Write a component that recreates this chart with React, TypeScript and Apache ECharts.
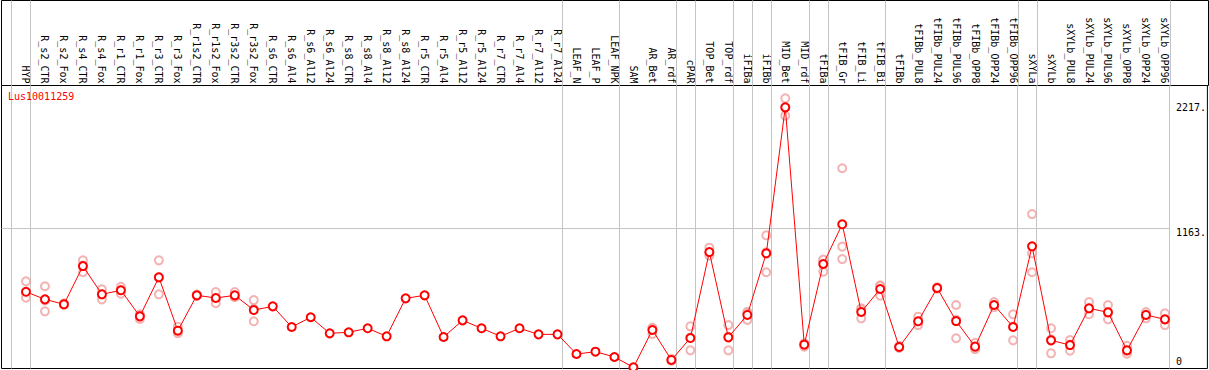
import { useEffect, useRef } from 'react';
import * as echarts from 'echarts';

const categories = [
  'HYP', 'R_s2_CTR', 'R_s2_Fox', 'R_s4_CTR', 'R_s4_Fox', 'R_r1_CTR', 'R_r1_Fox', 'R_r3_CTR', 'R_r3_Fox',
  'R_r1s2_CTR', 'R_r1s2_Fox', 'R_r3s2_CTR', 'R_r3s2_Fox', 'R_s6_CTR', 'R_s6_Al4', 'R_s6_Al12', 'R_s6_Al24',
  'R_s8_CTR', 'R_s8_Al4', 'R_s8_Al12', 'R_s8_Al24', 'R_r5_CTR', 'R_r5_Al4', 'R_r5_Al12', 'R_r5_Al24',
  'R_r7_CTR', 'R_r7_Al4', 'R_r7_Al12', 'R_r7_Al24', 'LEAF_N', 'LEAF_P', 'LEAF_NPK', 'SAM', 'AR_Bet', 'AR_rdf',
  'cPAR', 'TOP_Bet', 'TOP_rdf', 'iFIBa', 'iFIBb', 'MID_Bet', 'MID_rdf', 'tFIBa', 'tFIB_Gr', 'tFIB_Li', 'tFIB_Bi',
  'tFIBb', 'tFIBb_PUL8', 'tFIBb_PUL24', 'tFIBb_PUL96', 'tFIBb_OPP8', 'tFIBb_OPP24', 'tFIBb_OPP96',
  'sXYLa', 'sXYLb', 'sXYLb_PUL8', 'sXYLb_PUL24', 'sXYLb_PUL96', 'sXYLb_OPP8', 'sXYLb_OPP24', 'sXYLb_OPP96',
];

const meanValues = [
  610, 544, 501, 834, 588, 623, 396, 736, 271, 579, 556, 579, 451, 483, 303, 388, 248, 257, 292, 222,
  553, 579, 216, 361, 292, 222, 292, 239, 239, 68, 88, 42, -48, 277, 16, 207, 956, 213, 408, 945,
  2217, 149, 852, 1198, 434, 634, 129, 353, 643, 355, 132, 495, 303, 1006, 187, 146, 466, 431, 100, 408, 370,
];

const N = null;
const replicateA = [
  701, 658, 510, 884, 631, 654, 414, 884, 306, 585, 608, 608, 538, N, N, N, N, N, N, N,
  N, N, N, N, N, N, N, N, N, N, N, N, N, 297, 25, 309, 994, 320, 436, 1102,
  2295, 161, 881, 1686, 466, 666, 140, 393, 650, 495, 166, 521, 414, 1287, 292, 190, 521, 495, 140, 434, 422,
];
const replicateB = [
  600, 534, 495, 838, 589, 622, 400, 736, 260, 575, 550, 565, 462, N, N, N, N, N, N, N,
  N, N, N, N, N, N, N, N, N, N, N, N, N, 292, 10, 212, 950, 219, 424, 953,
  2212, 154, 890, 1003, 457, 660, 125, 346, 640, 365, 119, 489, 308, 945, 195, 151, 463, 428, 90, 411, 368,
];
const replicateC = [
  558, 440, 498, 780, 544, 593, 373, 588, 250, 578, 510, 565, 353, N, N, N, N, N, N, N,
  N, N, N, N, N, N, N, N, N, N, N, N, N, 242, 13, 100, 924, 100, 364, 780,
  2144, 132, 785, 895, 379, 576, 122, 320, 640, 205, 111, 475, 187, 780, 74, 97, 414, 370, 70, 379, 320,
];

// index of the last category of each sample group
const groupEnds = [-1, 0, 28, 31, 34, 35, 37, 38, 39, 41, 42, 45, 52, 53, 60];
const yTickValues = [0, 1163, 2217];
const geneName = 'Lus10011259';

export default function App() {
  const ref = useRef<HTMLDivElement>(null);
  useEffect(() => {
    const chart = echarts.init(ref.current!, null, { renderer: 'svg' });
    const X_MIN = -24.5 / 19;
    const X_MAX = X_MIN + 1207 / 19;
    const Y_MAX = 2406.9;
    const Y_MIN = -58.3;
    const sepOffset = 0.237;
    const lastSep = groupEnds[groupEnds.length - 1] + sepOffset;
    const mono = 'DejaVu Sans Mono';

    const reps: any[] = [];
    [replicateA, replicateB, replicateC].forEach((arr) =>
      arr.forEach((v, i) => {
        if (v !== null) reps.push([i, v]);
      })
    );

    const sepLine = {
      silent: true,
      symbol: ['none', 'none'],
      label: { show: false },
      lineStyle: { color: '#c4c4c4', width: 1, type: 'solid' },
    };

    const option: any = {
      animation: false,
      backgroundColor: '#ffffff',
      title: {
        text: geneName,
        left: 8,
        top: 91,
        padding: 0,
        textStyle: { color: '#ff0000', fontSize: 10, fontWeight: 'normal', fontFamily: mono },
      },
      grid: [
        {
          left: 1.5,
          right: 0.5,
          top: 85.5,
          bottom: 1.5,
          show: true,
          borderColor: '#000000',
          borderWidth: 1,
          backgroundColor: 'transparent',
        },
        {
          left: 1.5,
          right: 0.5,
          top: 0.5,
          height: 85,
          show: true,
          borderColor: '#000000',
          borderWidth: 1,
          backgroundColor: 'transparent',
        },
      ],
      xAxis: [
        {
          type: 'value',
          gridIndex: 0,
          position: 'top',
          min: X_MIN,
          max: X_MAX,
          axisLine: { show: false, onZero: false },
          axisTick: { show: false },
          splitLine: { show: false },
          axisLabel: {
            customValues: categories.map((_, i) => i),
            formatter: (v: number) => categories[Math.round(v)] ?? '',
            rotate: 90,
            margin: 2,
            fontSize: 10,
            fontFamily: mono,
            color: '#000000',
          },
        },
        {
          type: 'value',
          gridIndex: 1,
          min: X_MIN,
          max: X_MAX,
          show: false,
        },
      ],
      yAxis: [
        {
          type: 'value',
          gridIndex: 0,
          position: 'right',
          offset: -38,
          min: Y_MIN,
          max: Y_MAX,
          axisLine: { show: false, onZero: false },
          axisTick: { show: false },
          splitLine: { show: false },
          axisLabel: {
            customValues: yTickValues,
            formatter: (v: number) => (v === 0 ? '0' : v === 1163 ? '{low|' + v + '.}' : v + '.'),
            rich: { low: { padding: [8, 0, 0, 0], fontSize: 10, fontFamily: mono, color: '#000000' } },
            margin: 6.5,
            fontSize: 10,
            fontFamily: mono,
            color: '#000000',
          },
        },
        {
          type: 'value',
          gridIndex: 1,
          min: 0,
          max: 1,
          show: false,
        },
      ],
      series: [
        {
          type: 'line',
          xAxisIndex: 1,
          yAxisIndex: 1,
          data: [[X_MIN - 5, 0.5]],
          symbol: 'none',
          lineStyle: { width: 0 },
          silent: true,
          z: 1,
          markLine: {
            ...sepLine,
            z: 1,
            data: groupEnds.map((g) => ({ xAxis: g + sepOffset })),
          },
        },
        {
          type: 'scatter',
          data: reps,
          symbol: 'emptyCircle',
          symbolSize: 8,
          itemStyle: { color: '#f0a0a0', borderColor: '#f0a0a0', borderWidth: 1.5 },
          z: 2,
          silent: true,
          markLine: {
            ...sepLine,
            z: 1,
            data: [
              ...groupEnds.map((g) => ({ xAxis: g + sepOffset })),
              [
                { coord: [X_MIN, yTickValues[1]] },
                { coord: [lastSep, yTickValues[1]] },
              ],
            ],
          },
        },
        {
          type: 'line',
          data: meanValues.map((v, i) => [i, v]),
          symbol: 'emptyCircle',
          symbolSize: 8,
          showSymbol: true,
          showAllSymbol: true,
          lineStyle: { color: '#ff0000', width: 1 },
          itemStyle: { color: '#ff0000', borderColor: '#ff0000', borderWidth: 1.5 },
          z: 3,
          silent: true,
        },
      ],
    };
    chart.setOption(option);
    return () => chart.dispose();
  }, []);
  return <div ref={ref} style={{ position: 'fixed', left: 0, top: 0, width: 1209, height: 370 }} />;
}
